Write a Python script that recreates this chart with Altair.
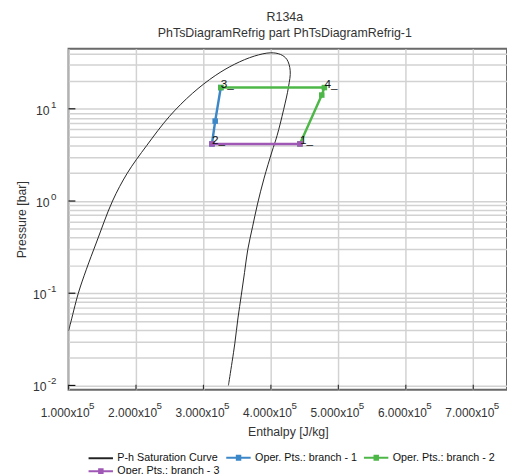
import altair as alt
import pandas as pd

# ---------------- data ----------------
sat_h = [1.000e5, 1.025e5, 1.145e5, 1.265e5, 1.410e5, 1.652e5, 1.870e5, 2.159e5, 2.497e5,
         2.836e5, 3.174e5, 3.464e5, 3.754e5, 3.996e5, 4.141e5, 4.236e5, 4.286e5, 4.261e5,
         4.188e5, 4.091e5, 4.014e5, 3.899e5, 3.801e5, 3.728e5, 3.657e5, 3.609e5, 3.561e5,
         3.512e5, 3.464e5, 3.391e5, 3.370e5]
sat_p = [0.039, 0.0458, 0.100, 0.182, 0.35, 1.0, 2.0, 4.0, 8.3,
         14.7, 22.9, 30.5, 37.3, 40.5, 38.9, 34.4, 25.9, 17.3,
         9.76, 5.11, 3.40, 1.77, 0.927, 0.525, 0.297, 0.168, 0.0953,
         0.054, 0.0282, 0.0125, 0.0100]

b1_h = [3.126e5, 3.174e5, 3.257e5]
b1_p = [4.16, 7.36, 17.0]
b2_h = [3.257e5, 4.793e5, 4.754e5, 4.430e5]
b2_p = [17.0, 17.0, 14.1, 4.16]
b3_h = [4.430e5, 3.126e5]
b3_p = [4.16, 4.16]

pt_labels = ["1", "2", "3", "4"]
pt_h = [4.430e5, 3.126e5, 3.257e5, 4.793e5]
pt_p = [4.16, 4.16, 17.0, 17.0]

series_names = ["P-h Saturation Curve", "Oper. Pts.: branch - 1",
                "Oper. Pts.: branch - 2", "Oper. Pts.: branch - 3"]
series_colors = ["#222222", "#3c87c7", "#4db848", "#9f58b5"]

x_ticks = [1e5, 2e5, 3e5, 4e5, 5e5, 6e5, 7e5]
x_exp = "5"
y_major = [0.01, 0.1, 1, 10]
y_exp = ["-2", "-1", "0", "1"]
y_minor = [0.02, 0.03, 0.04, 0.05, 0.06, 0.07, 0.08, 0.09,
           0.2, 0.3, 0.4, 0.5, 0.6, 0.7, 0.8, 0.9,
           2, 3, 4, 5, 6, 7, 8, 9, 20, 30, 40]

FONT = "Liberation Sans"
W, H = 449, 349

# ---------------- tables ----------------
df_sat = pd.DataFrame({"h": sat_h, "p": sat_p, "i": range(len(sat_h)),
                       "series": series_names[0]})
rows = []
for name, hs, ps in [(series_names[1], b1_h, b1_p), (series_names[2], b2_h, b2_p),
                     (series_names[3], b3_h, b3_p)]:
    for i, (h, p) in enumerate(zip(hs, ps)):
        rows.append({"h": h, "p": p, "i": i, "series": name})
df_ops = pd.DataFrame(rows)
df_lab = pd.DataFrame({"h": pt_h, "p": pt_p, "lab": pt_labels})
df_xt = pd.DataFrame({"h": x_ticks})
df_yt = pd.DataFrame({"p": y_major, "e": y_exp})

xs = alt.Scale(type="linear", domain=[1e5, 7.5e5], nice=False, zero=False)
ys = alt.Scale(type="log", domain=[0.009, 44.7], nice=False)
cs = alt.Scale(domain=series_names, range=series_colors)

x_axis = alt.Axis(values=x_ticks,
                  labelExpr="format(datum.value/100000,'.3f') + 'x10'",
                  ticks=False, domain=False, grid=True, gridColor="#d2d2d2",
                  gridWidth=1.5, labelFont=FONT, labelFontSize=12.2, labelColor="#333",
                  labelPadding=17, labelOffset=-4, labelFlush=False, labelOverlap=False,
                  title="Enthalpy [J/kg]", titleFont=FONT, titleFontSize=12.6,
                  titleFontWeight="normal", titleColor="#333", titlePadding=8)
y_axis = alt.Axis(values=y_major + y_minor,
                  labelExpr=("(datum.value==10 || datum.value==1 || datum.value==0.1 || "
                             "datum.value==0.01) ? '10' : ''"),
                  ticks=False, domain=False, grid=True, gridColor="#d2d2d2",
                  gridWidth=1.5, labelFont=FONT, labelFontSize=12.5, labelColor="#333",
                  labelPadding={"condition": {"test": "datum.value < 0.5", "value": 23},
                                "value": 20},
                  labelOffset=1.5, labelFlush=False, labelOverlap=False,
                  title="Pressure [bar]", titleFont=FONT, titleFontSize=12.6,
                  titleFontWeight="normal", titleColor="#333", titlePadding=4)


def X(field="h"):
    return alt.X(f"{field}:Q", scale=xs, axis=x_axis)


def Y(field="p"):
    return alt.Y(f"{field}:Q", scale=ys, axis=y_axis)


paths_line = "M0,0H8.33"
paths_sq = "M0,0H8.33M3.6,-0.7H4.8V0.7H3.6Z"
leg = alt.Legend(title=None, orient="none", direction="horizontal", legendX=15, legendY=413,
                 columns=3, columnPadding=1, rowPadding=1, padding=0, labelFont=FONT,
                 labelFontSize=11, labelColor="#111", labelOffset=24, symbolSize=36,
                 symbolOpacity=1, symbolStrokeWidth=2, values=series_names)
legend_layer = alt.Chart(df_ops).mark_point(
    filled=False, size=36, opacity=0).encode(
    x=X(), y=Y(),
    color=alt.Color("series:N", scale=cs, legend=leg, sort=series_names),
    shape=alt.Shape("series:N", scale=alt.Scale(domain=series_names,
                                                 range=[paths_line, paths_sq, paths_sq, paths_sq]),
                    legend=leg, sort=series_names),
)

sat = alt.Chart(df_sat).mark_line(strokeWidth=1, interpolate="catmull-rom", clip=True).encode(
    x=X(), y=Y(), order="i:Q",
    color=alt.Color("series:N", scale=cs, legend=leg, sort=series_names))

ops_line = alt.Chart(df_ops).mark_line(strokeWidth=2.5, clip=True).encode(
    x=X(), y=Y(), order="i:Q", detail="series:N",
    color=alt.Color("series:N", scale=cs, legend=leg, sort=series_names))

ops_pts = alt.Chart(df_ops).mark_square(size=32, opacity=1).encode(
    x=X(), y=Y(), color=alt.Color("series:N", scale=cs, legend=leg, sort=series_names))

labels = alt.Chart(df_lab).transform_calculate(t="datum.lab + '_'").mark_text(
    align="left", baseline="alphabetic", font=FONT, fontSize=12, color="#111"
).encode(x=X(), y=Y(), text="t:N")

xt = alt.Chart(df_xt).mark_rule(color="#333", strokeWidth=1.2).encode(
    x=X(), y=alt.value(H), y2=alt.value(H - 5))
yt = alt.Chart(df_yt).mark_rule(color="#111", strokeWidth=1.2).encode(
    y=Y(), x=alt.value(0), x2=alt.value(7))

x_sup = alt.Chart(df_xt).mark_text(
    align="left", baseline="alphabetic", dx=21, font=FONT, fontSize=10, color="#333",
    text=x_exp).encode(x=X(), y=alt.value(H + 20))
y_sup = alt.Chart(df_yt).mark_text(
    align="right", baseline="middle", dy=-4, font=FONT, fontSize=10, color="#333"
).encode(y=Y(), x=alt.value(-12.5), text="e:N")

chart = alt.layer(legend_layer, sat, ops_line, ops_pts, labels, xt, yt, x_sup, y_sup).properties(
    width=W, height=H,
    title=alt.TitleParams(text=["R134a", "PhTsDiagramRefrig part PhTsDiagramRefrig-1"],
                          font=FONT, fontSize=12.7, fontWeight="normal", color="#333",
                          anchor="middle", offset=9, lineHeight=17, dx=-3),
    autosize=alt.AutoSizeParams(type="none"),
    padding={"left": 62, "top": 36, "right": 0, "bottom": 100},
).configure_view(stroke="#6a6a6a", strokeWidth=2)

chart.save("out.html", embed_options={"renderer": "svg", "actions": False})
